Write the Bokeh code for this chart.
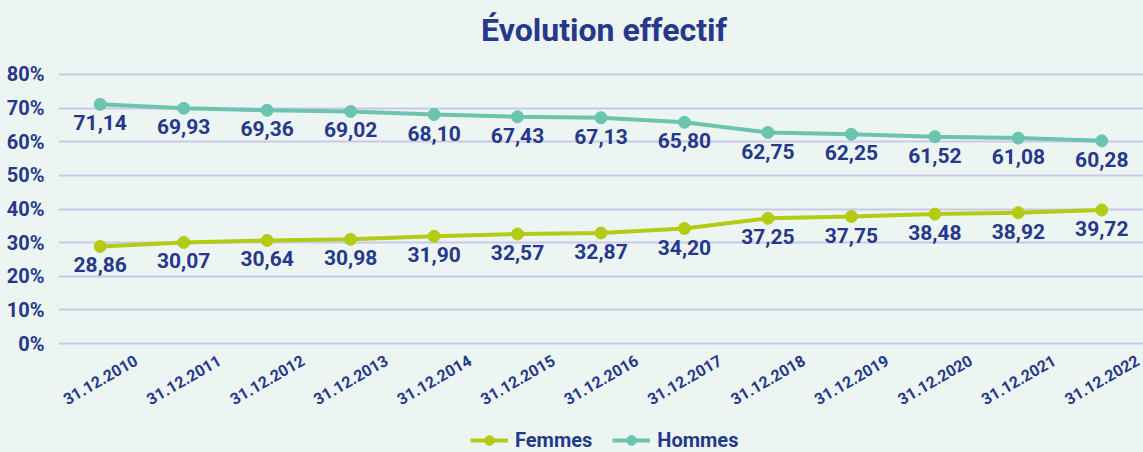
from bokeh.plotting import figure
from bokeh.models import ColumnDataSource, FixedTicker, Legend, LegendItem, Range1d
from bokeh.core.properties import value
from bokeh.embed import file_html
from bokeh.resources import INLINE
import math

title = "Évolution effectif"
categories = ["31.12.2010", "31.12.2011", "31.12.2012", "31.12.2013", "31.12.2014",
              "31.12.2015", "31.12.2016", "31.12.2017", "31.12.2018", "31.12.2019",
              "31.12.2020", "31.12.2021", "31.12.2022"]
femmes = [28.86, 30.07, 30.64, 30.98, 31.90, 32.57, 32.87, 34.20, 37.25, 37.75, 38.48, 38.92, 39.72]
hommes = [71.14, 69.93, 69.36, 69.02, 68.10, 67.43, 67.13, 65.80, 62.75, 62.25, 61.52, 61.08, 60.28]
y_ticks = [0, 10, 20, 30, 40, 50, 60, 70, 80]
y_tick_labels = ["0%", "10%", "20%", "30%", "40%", "50%", "60%", "70%", "80%"]

BG = "#EDF5F3"
NAVY = "#25388A"
GREEN = "#B3CB14"
TEAL = "#6BC4AE"
GRID = "#CAC8E8"
FONT = "Roboto"

def fmt(v):
    return f"{v:.2f}".replace(".", ",")

n = len(categories)
xpos = [i + 0.5 for i in range(n)]  # category slot centres

src = ColumnDataSource(dict(
    x=xpos, cat=categories, f=femmes, h=hommes, zero=[y_ticks[0]] * n,
    fl=[fmt(v) for v in femmes], hl=[fmt(v) for v in hommes],
))

# The frame spans the whole canvas height; the value axis 0..80 occupies the
# band between the title area and the rotated date labels / legend.
p = figure(width=1143, height=452, x_range=Range1d(0, n), y_range=Range1d(-32.4, 102.0),
           output_backend="svg", toolbar_location=None, x_axis_location=None,
           min_border_left=58, min_border_right=0, min_border_top=0, min_border_bottom=0,
           background_fill_color=BG, border_fill_color=BG, outline_line_color=None)

# grid
p.xgrid.grid_line_color = None
p.ygrid.grid_line_color = GRID
p.ygrid.grid_line_width = 2

# y axis
p.yaxis.ticker = FixedTicker(ticks=y_ticks)
p.yaxis.major_label_overrides = {t: l for t, l in zip(y_ticks, y_tick_labels)}
p.yaxis.axis_line_color = None
p.yaxis.major_tick_line_color = None
p.yaxis.minor_tick_line_color = None
p.yaxis.major_label_text_font = FONT
p.yaxis.major_label_text_font_size = "20px"
p.yaxis.major_label_text_font_style = "bold"
p.yaxis.major_label_text_color = NAVY
p.yaxis.major_label_standoff = 8

# title
tsrc = ColumnDataSource(dict(x=[n / 2], y=[y_ticks[-1]], t=[title]))
p.text("x", "y", text="t", source=tsrc, text_align="center", text_baseline="middle",
       x_offset=3, y_offset=-44, text_font=value(FONT), text_font_size="32px",
       text_font_style="bold", text_color=NAVY)

# rotated date labels under the zero line
p.text("x", "zero", text="cat", source=src, angle=math.pi / 6, text_align="center",
       text_baseline="middle", y_offset=36, text_font=value(FONT), text_font_size="16px",
       text_font_style="bold", text_color=NAVY)

lf = p.line("x", "f", source=src, line_color=GREEN, line_width=4)
cf = p.scatter("x", "f", source=src, size=12, fill_color=GREEN, line_color=GREEN)
lh = p.line("x", "h", source=src, line_color=TEAL, line_width=4)
ch = p.scatter("x", "h", source=src, size=12, fill_color=TEAL, line_color=TEAL)

for col, lab in (("f", "fl"), ("h", "hl")):
    p.text("x", col, text=lab, source=src, text_align="center", text_baseline="top",
           y_offset=11, text_font=value(FONT), text_font_size="21px",
           text_font_style="bold", text_color=NAVY)

legend = Legend(items=[LegendItem(label="Femmes", renderers=[lf, cf]),
                       LegendItem(label="Hommes", renderers=[lh, ch])],
                orientation="horizontal", location=(412, 0),
                border_line_color=None, background_fill_alpha=0,
                padding=0, margin=0, spacing=20, glyph_width=38, glyph_height=24,
                label_height=22, label_standoff=7,
                label_text_font=FONT, label_text_font_size="20px",
                label_text_font_style="bold", label_text_color=NAVY)
p.add_layout(legend, "center")

html = file_html(p, INLINE)
html = html.replace("<head>", "<head><style>html,body{background:%s;}</style>" % BG, 1)
open("out.html", "w").write(html)
